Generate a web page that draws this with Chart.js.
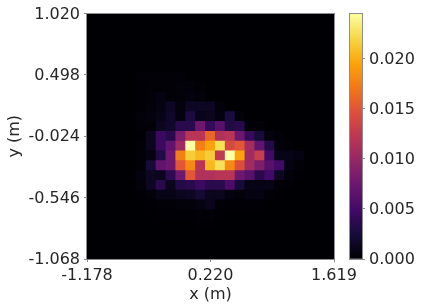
<!DOCTYPE html>
<html>
<head>
<meta charset="utf-8">
<script src="https://cdn.jsdelivr.net/npm/chart.js@4"></script>
<style>
html,body{margin:0;padding:0;background:#fff}
#wrap{position:relative;width:423px;height:308px}
canvas{position:absolute;left:0;top:0}
</style>
</head>
<body>
<div id="wrap">
<canvas id="heat" width="423" height="308"></canvas>
<canvas id="bar" width="423" height="308"></canvas>
</div>
<script>
// density per cell in units of 1e-4, top row first
let density = [
[0,0,0,0,0,0,0,0,0,0,0,0,0,0,0,0,0,0,0,0,0,0,0,0,0],
[0,0,0,0,0,0,0,0,0,0,0,0,0,0,0,0,0,0,0,0,0,0,0,0,0],
[0,0,0,0,0,0,0,0,0,0,0,0,0,0,0,0,0,0,0,0,0,0,0,0,0],
[0,0,0,0,0,0,0,0,0,0,0,0,0,0,0,0,0,0,0,0,0,0,0,0,0],
[0,0,0,0,0,0,0,0,0,0,0,0,0,0,0,0,0,0,0,0,0,0,0,0,0],
[0,0,0,0,0,0,0,0,0,0,0,0,0,0,0,0,0,0,0,0,0,0,0,0,0],
[0,0,0,0,0,2,2,2,2,2,0,0,0,0,0,0,0,0,0,0,0,0,0,0,0],
[0,0,0,0,0,1,2,2,2,3,3,2,0,0,0,0,0,0,0,0,0,0,0,0,0],
[0,0,0,0,0,1,2,6,2,3,5,3,0,0,0,0,0,0,0,0,0,0,0,0,0],
[0,0,0,0,0,1,3,6,15,4,15,15,15,3,0,0,0,0,0,0,0,0,0,0,0],
[0,0,0,0,0,3,5,8,18,5,28,10,12,5,28,3,0,0,0,0,0,0,0,0,0],
[0,0,0,0,0,2,2,12,18,35,35,75,42,62,30,35,2,3,0,0,0,0,0,0,0],
[0,0,0,0,0,1,12,45,35,85,120,120,160,115,120,75,42,25,5,2,0,0,0,0,0],
[0,0,0,0,0,2,12,45,68,105,245,175,195,225,140,150,108,68,32,3,2,0,0,0,0],
[0,0,0,0,0,2,6,30,75,175,215,205,215,125,245,195,105,130,48,8,8,6,0,0,0],
[0,0,0,0,0,2,25,68,75,150,180,120,205,225,180,145,105,85,62,48,6,2,0,0,0],
[0,0,0,0,0,5,15,12,38,75,150,115,115,120,120,75,62,35,48,15,3,1,0,0,0],
[0,0,0,0,0,3,15,35,12,32,35,45,35,35,55,25,8,8,8,2,1,0,0,0,0],
[0,0,0,0,0,1,3,8,8,12,15,22,12,12,5,3,6,6,2,1,0,0,0,0,0],
[0,0,0,0,0,0,1,2,2,3,3,6,11,2,1,1,1,1,0,0,0,0,0,0,0],
[0,0,0,0,0,0,0,1,1,1,1,2,2,1,0,0,0,0,0,0,0,0,0,0,0],
[0,0,0,0,0,0,0,0,0,0,0,1,1,0,0,0,0,0,0,0,0,0,0,0,0],
[0,0,0,0,0,0,0,0,0,0,0,0,0,0,0,0,0,0,0,0,0,0,0,0,0],
[0,0,0,0,0,0,0,0,0,0,0,0,0,0,0,0,0,0,0,0,0,0,0,0,0],
[0,0,0,0,0,0,0,0,0,0,0,0,0,0,0,0,0,0,0,0,0,0,0,0,0]
]

let xTicks = [-1.178, 0.220, 1.619]
let yTicks = [-1.068, -0.546, -0.024, 0.498, 1.020]
let barTicks = [0, 0.005, 0.010, 0.015, 0.020]
let barMax = 0.02448

let inferno = ["#000004","#160b39","#420a68","#6a176e","#932667","#bc3754","#dd513a","#f37819","#fca50a","#f6d746","#fcffa4"]

let xMin = xTicks[0], xMax = xTicks[2]
let yMin = yTicks[0], yMax = yTicks[4]
let frameColor = "#8c8c8c"
let textColor = "#262626"
let fontSpec = {family:"'DejaVu Sans'", size:16}

function hexToRgb(h){
return [parseInt(h.slice(1,3),16), parseInt(h.slice(3,5),16), parseInt(h.slice(5,7),16)]
}

function infernoColor(t){
t = Math.max(0, Math.min(1, t))
let pos = t * (inferno.length - 1)
let i = Math.min(Math.floor(pos), inferno.length - 2)
let a = hexToRgb(inferno[i]), b = hexToRgb(inferno[i+1])
let f = pos - i
return "rgb(" + [0,1,2].map(k => Math.round(a[k] + (b[k]-a[k])*f)).join(",") + ")"
}

let cells = []
let cellColors = []
let rows = density.length, cols = density[0].length
let dx = (xMax - xMin) / cols, dy = (yMax - yMin) / rows

density.forEach((row, j) => {
row.forEach((v, i) => {
cells.push({x: xMin + (i + 0.5) * dx, y: [yMax - (j + 1) * dy, yMax - j * dy]})
cellColors.push(infernoColor(v * 1e-4 / barMax))
})
})

// black behind the cells so the seams between bars do not show
let backdropPlugin = {
id: "backdrop",
beforeDatasetsDraw(chart){
let a = chart.chartArea, c = chart.ctx
c.save()
c.fillStyle = inferno[0]
c.fillRect(a.left, a.top, a.right-a.left, a.bottom-a.top)
c.restore()
}
}

let framePlugin = {
id: "frame",
afterDatasetsDraw(chart){
let a = chart.chartArea, c = chart.ctx
c.save()
c.strokeStyle = frameColor
c.lineWidth = 1
c.strokeRect(Math.round(a.left)-0.5, Math.round(a.top)-0.5, Math.round(a.right-a.left)+1, Math.round(a.bottom-a.top)+1)
c.restore()
}
}

// y tick labels sit 1px under their tick in the reference
let nudgePlugin = {
id: "nudge",
beforeDraw(chart){
let items = chart.scales.y.getLabelItems(chart.chartArea)
if(items.nudged) return
items.forEach(it => { it.textOffset += 1 })
items.nudged = true
}
}

new Chart(document.getElementById("heat"),{
type:"bar",
data:{datasets:[{data:cells, backgroundColor:cellColors, barPercentage:1, categoryPercentage:1, borderWidth:0, inflateAmount:0.5}]},
plugins:[backdropPlugin, framePlugin, nudgePlugin],
options:{
responsive:false,
animation:false,
layout:{padding:{top:13, right:89, left:0, bottom:0}},
plugins:{legend:{display:false}, tooltip:{enabled:false}},
scales:{
x:{
type:"linear", min:xMin, max:xMax, offset:false,
afterBuildTicks(s){ s.ticks = xTicks.map(v => ({value:v})) },
afterFit(s){ s.height = 49 },
ticks:{color:textColor, font:fontSpec, maxRotation:0, autoSkip:false, padding:4, callback:v => v.toFixed(3)},
grid:{offset:false, drawOnChartArea:false, color:frameColor, tickLength:3},
border:{color:frameColor},
title:{display:true, text:"x (m)", color:textColor, font:fontSpec, padding:{top:0,bottom:4}}
},
y:{
type:"linear", min:yMin, max:yMax,
afterBuildTicks(s){ s.ticks = yTicks.map(v => ({value:v})) },
afterFit(s){ s.width = 87 },
ticks:{color:textColor, font:fontSpec, autoSkip:false, padding:4, callback:v => v.toFixed(3)},
grid:{drawOnChartArea:false, color:frameColor, tickLength:3},
border:{color:frameColor},
title:{display:true, text:"y (m)", color:textColor, font:fontSpec, padding:{top:5,bottom:0}}
}
}
}
})

new Chart(document.getElementById("bar"),{
type:"bar",
data:{labels:["c"], datasets:[{
data:[[0, barMax]],
barPercentage:1, categoryPercentage:1, borderWidth:0,
backgroundColor(ctx){
let a = ctx.chart.chartArea
if(!a) return inferno[0]
let g = ctx.chart.ctx.createLinearGradient(0, a.bottom, 0, a.top)
inferno.forEach((c, i) => g.addColorStop(i / (inferno.length - 1), c))
return g
}
}]},
plugins:[framePlugin, nudgePlugin],
options:{
responsive:false,
animation:false,
layout:{padding:{top:13, left:350, bottom:49, right:0}},
plugins:{legend:{display:false}, tooltip:{enabled:false}},
scales:{
x:{display:false},
y:{
position:"right", min:0, max:barMax,
afterBuildTicks(s){ s.ticks = barTicks.map(v => ({value:v})) },
afterFit(s){ s.width = 61 },
ticks:{color:textColor, font:fontSpec, autoSkip:false, padding:4, callback:v => v.toFixed(3)},
grid:{drawOnChartArea:false, color:frameColor, tickLength:3},
border:{color:frameColor}
}
}
}
})
</script>
</body>
</html>
